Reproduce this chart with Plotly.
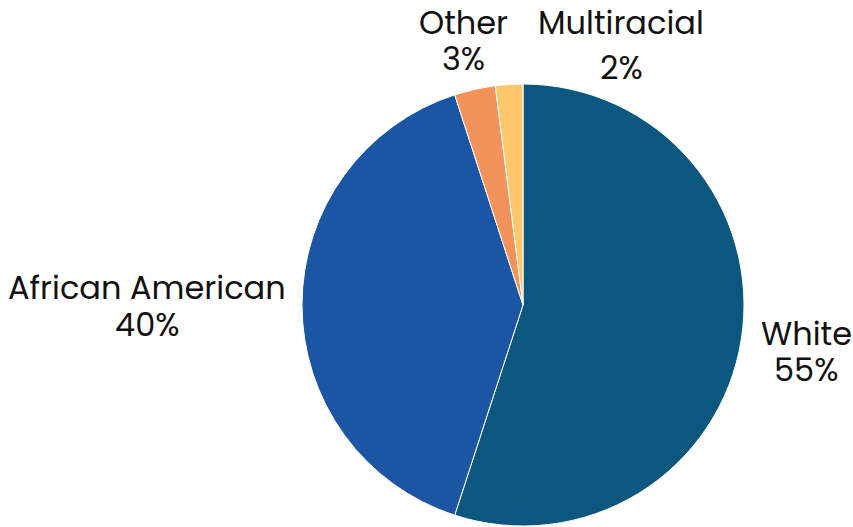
import plotly.graph_objects as go

labels = ["White", "African American", "Other", "Multiracial"]
values = [55, 40, 3, 2]
colors = ["#0B577F", "#1B55A4", "#F2935C", "#FDC76A"]

W, H = 853, 527
cx, cy, r = 523, 305, 221

# label positions in pixels (placed by hand, like the source chart):
# (x, y of name line, y of percent line)
label_pos = {
    "White": (806, 333, 370),
    "African American": (147, 287, 324),
    "Other": (463, 22, 59),
    "Multiracial": (621, 22, 67),
}

FONT = dict(family="Poppins, Lato, Open Sans, sans-serif", size=32, color="#111111")

fig = go.Figure()
fig.add_trace(go.Pie(
    labels=labels,
    values=values,
    sort=False,
    direction="clockwise",
    rotation=0,
    marker=dict(colors=colors, line=dict(color="white", width=1)),
    textposition="none",
    domain=dict(x=[(cx - r) / W, (cx + r) / W], y=[1 - (cy + r) / H, 1 - (cy - r) / H]),
    showlegend=False,
    hovertemplate="%{label}: %{percent:.0%}<extra></extra>",
))

total = sum(values)
for lab, val in zip(labels, values):
    px, py_name, py_pct = label_pos[lab]
    for txt, py in [(lab, py_name), (f"{round(100 * val / total)}%", py_pct)]:
        fig.add_annotation(
            x=px / W, y=1 - py / H, xref="paper", yref="paper",
            text=txt, showarrow=False,
            xanchor="center", yanchor="middle", align="center",
            font=FONT,
        )

fig.update_layout(
    width=W, height=H,
    margin=dict(l=0, r=0, t=0, b=0),
    paper_bgcolor="white",
    plot_bgcolor="white",
)

# drop the default 8px body margin so the figure fills the window
fig.write_html(
    "out.html",
    config={"displayModeBar": False},
    post_script="document.body.style.margin='0px';document.body.style.overflow='hidden';",
)
